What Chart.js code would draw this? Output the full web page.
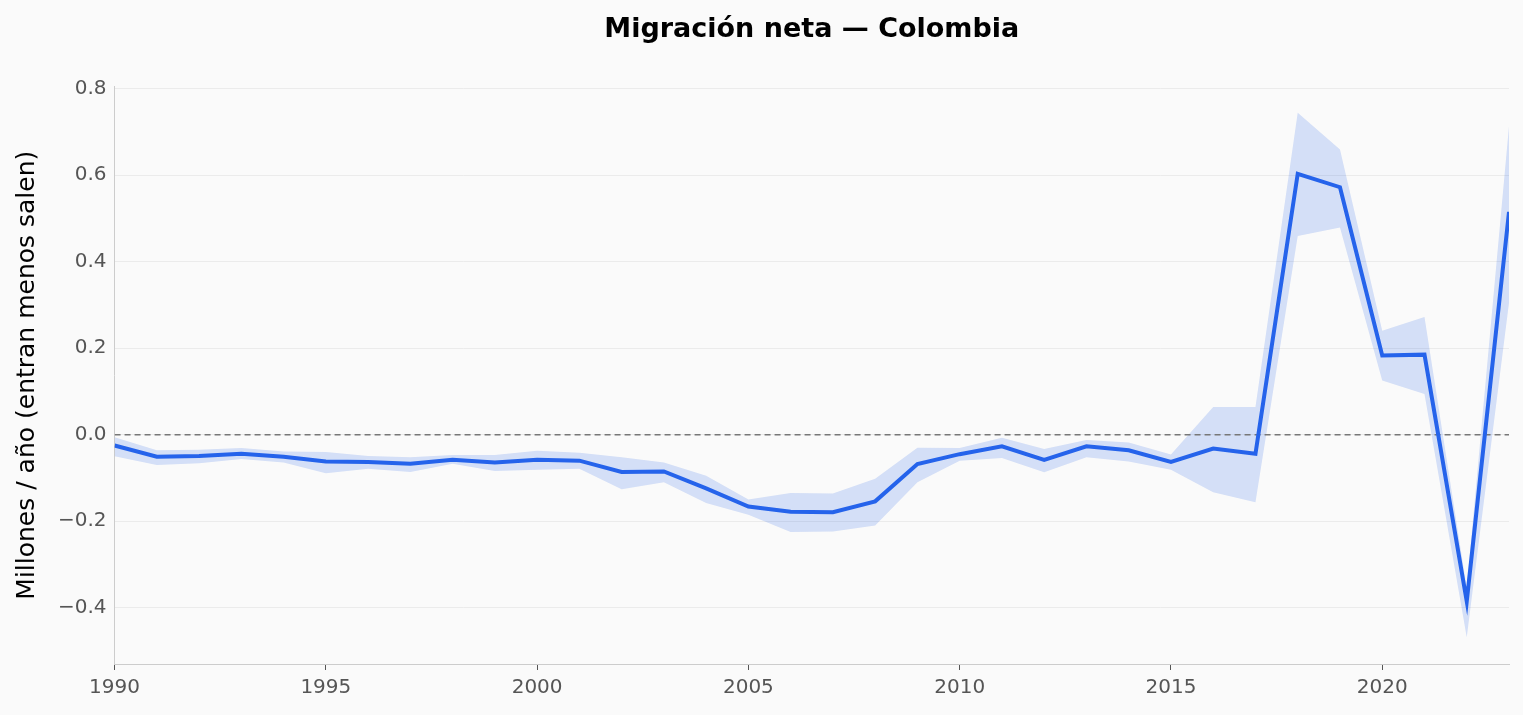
<!DOCTYPE html>
<html>
<head>
<meta charset="utf-8">
<script src="https://cdn.jsdelivr.net/npm/chart.js@4"></script>
<style>
  html, body { margin: 0; padding: 0; background: #fafafa; }
  #wrap { width: 1523px; height: 715px; }
</style>
</head>
<body>
<div id="wrap"><canvas id="chart"></canvas></div>
<script>
const years = [1990, 1991, 1992, 1993, 1994, 1995, 1996, 1997, 1998, 1999, 2000, 2001, 2002, 2003, 2004, 2005, 2006,
  2007, 2008, 2009, 2010, 2011, 2012, 2013, 2014, 2015, 2016, 2017, 2018, 2019, 2020, 2021, 2022, 2023];
const netMigration = [-0.025, -0.051, -0.049, -0.044, -0.051, -0.062, -0.063, -0.067, -0.058, -0.064, -0.058, -0.060,
  -0.086, -0.085, -0.124, -0.166, -0.178, -0.179, -0.154, -0.068, -0.045, -0.027, -0.058, -0.027, -0.036, -0.063,
  -0.032, -0.044, 0.603, 0.572, 0.183, 0.185, -0.385, 0.515];
const upperBound = [-0.006, -0.036, -0.035, -0.031, -0.039, -0.040, -0.049, -0.052, -0.047, -0.047, -0.037, -0.042,
  -0.052, -0.064, -0.095, -0.150, -0.135, -0.136, -0.102, -0.030, -0.031, -0.007, -0.033, -0.012, -0.018, -0.046,
  0.064, 0.064, 0.744, 0.659, 0.240, 0.272, -0.355, 0.713];
const lowerBound = [-0.050, -0.070, -0.066, -0.056, -0.064, -0.089, -0.079, -0.086, -0.067, -0.084, -0.081, -0.079,
  -0.126, -0.110, -0.158, -0.185, -0.225, -0.224, -0.210, -0.110, -0.060, -0.054, -0.087, -0.052, -0.062, -0.081,
  -0.133, -0.156, 0.459, 0.479, 0.125, 0.094, -0.468, 0.305];
const yTicks = [-0.4, -0.2, 0.0, 0.2, 0.4, 0.6, 0.8];

const pts = arr => years.map((y, i) => ({ x: y, y: arr[i] }));
const fmt = v => v.toFixed(1).replace('-', '\u2212');

const bgPlugin = {
  id: 'bg',
  beforeDraw(chart) {
    const ctx = chart.ctx;
    ctx.save();
    ctx.fillStyle = '#fafafa';
    ctx.fillRect(0, 0, chart.width, chart.height);
    ctx.restore();
  }
};

new Chart(document.getElementById('chart'), {
  type: 'line',
  data: {
    datasets: [
      {
        data: pts(netMigration),
        borderColor: '#2563eb',
        borderWidth: 4,
        pointRadius: 0,
        fill: false,
        tension: 0
      },
      {
        data: [{ x: years[0], y: 0 }, { x: years[years.length - 1], y: 0 }],
        borderColor: '#777777',
        borderWidth: 1.5,
        borderDash: [6, 4],
        pointRadius: 0,
        fill: false
      },
      {
        data: pts(upperBound),
        borderWidth: 0,
        borderColor: 'rgba(0,0,0,0)',
        backgroundColor: 'rgba(37, 99, 235, 0.18)',
        pointRadius: 0,
        fill: '+1',
        tension: 0
      },
      {
        data: pts(lowerBound),
        borderWidth: 0,
        borderColor: 'rgba(0,0,0,0)',
        pointRadius: 0,
        fill: false,
        tension: 0
      }
    ]
  },
  options: {
    responsive: true,
    maintainAspectRatio: false,
    animation: false,
    layout: { padding: { left: 8, right: 14, top: 11, bottom: 9 } },
    plugins: {
      legend: { display: false },
      tooltip: { enabled: false },
      title: {
        display: true,
        fullSize: false,
        text: 'Migración neta — Colombia',
        color: '#000',
        font: { family: 'DejaVu Sans', size: 27, weight: 'bold' },
        padding: { top: 3, bottom: 40 }
      }
    },
    scales: {
      x: {
        type: 'linear',
        min: 1990,
        max: 2023,
        border: { color: '#cccccc', width: 1 },
        grid: { drawOnChartArea: false, drawTicks: true, tickLength: 6, color: '#555555' },
        ticks: {
          stepSize: 5,
          includeBounds: false,
          color: '#555555',
          font: { family: 'DejaVu Sans', size: 20 },
          padding: 6,
          callback: v => String(v)
        }
      },
      y: {
        min: -0.53,
        max: 0.805,
        border: { color: '#cccccc', width: 1 },
        grid: { color: '#ebebeb', drawTicks: false },
        afterBuildTicks: axis => { axis.ticks = yTicks.map(v => ({ value: v })); },
        ticks: {
          color: '#555555',
          font: { family: 'DejaVu Sans', size: 20 },
          padding: 8,
          callback: v => fmt(v)
        },
        title: {
          display: true,
          text: 'Millones / año (entran menos salen)',
          color: '#000',
          font: { family: 'DejaVu Sans', size: 25 },
          padding: { bottom: 8 }
        }
      }
    }
  },
  plugins: [bgPlugin]
});
</script>
</body>
</html>
